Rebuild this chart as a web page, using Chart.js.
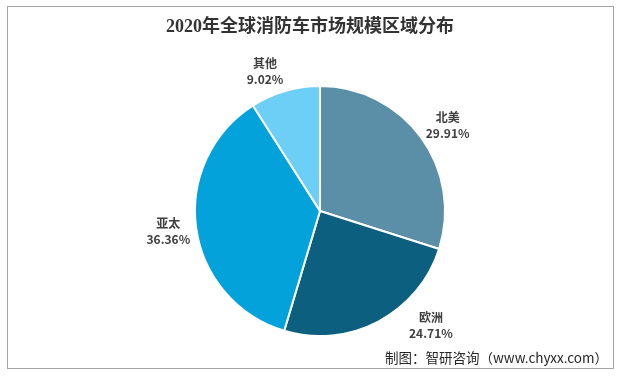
<!DOCTYPE html>
<html>
<head>
<meta charset="utf-8">
<script src="https://cdn.jsdelivr.net/npm/chart.js@4"></script>
<style>
  html, body { margin: 0; padding: 0; background: #fff; }
  #wrap { width: 621px; height: 376px; }
</style>
</head>
<body>
<div id="wrap"><canvas id="pieChart" width="621" height="376"></canvas></div>
<script>
// data
const regions = ['北美', '欧洲', '亚太', '其他'];
const shares = [29.91, 24.71, 36.36, 9.02];
const colors = ['#5b8fa8', '#0d5f80', '#04a2db', '#6dcff6'];
const titleText = '2020年全球消防车市场规模区域分布';
const sourceText = '制图：智研咨询（www.chyxx.com）';

// frame, title, source and outside labels
const decor = {
    id: 'decor',
    beforeDraw(chart) {
        const c = chart.ctx;
        c.save();
        c.fillStyle = '#fff';
        c.fillRect(0, 0, chart.width, chart.height);
        c.strokeStyle = '#a6a6a6';
        c.lineWidth = 1;
        c.strokeRect(7.5, 6.5, 606, 362);
        c.restore();
    },
    afterDraw(chart) {
        const c = chart.ctx;
        c.save();
        c.fillStyle = '#333';
        c.textAlign = 'center';
        c.textBaseline = 'middle';
        c.font = 'bold 18px "Liberation Serif", "Noto Sans CJK SC"';
        c.fillText(titleText, 310, 27);

        c.textAlign = 'right';
        c.fillStyle = '#262626';
        c.font = '13.5px "Noto Sans CJK SC", "Liberation Sans"';
        c.fillText(sourceText, 608, 358);

        const meta = chart.getDatasetMeta(0);
        c.font = 'bold 12px "Noto Sans CJK SC", "Liberation Sans"';
        c.fillStyle = '#404040';
        c.textAlign = 'center';
        meta.data.forEach((arc, i) => {
            const a = (arc.startAngle + arc.endAngle) / 2;
            const pct = shares[i].toFixed(2) + '%';
            const w = Math.max(c.measureText(regions[i]).width, c.measureText(pct).width);
            const h = 28;
            const r = arc.outerRadius;
            const sx = Math.cos(a), sy = Math.sin(a);
            let x = arc.x + sx * (r + 6) + Math.sign(sx) * w / 2;
            let y = arc.y + sy * (r + 6 + h / 2);
            // keep clear of the source note: slide up and out beside the pie
            if (y > 325) {
                y = 325;
                const top = y - h / 2 - arc.y;
                x = arc.x + Math.sign(sx) * (Math.sqrt(Math.max(0, r * r - top * top)) + 14 + w / 2);
            }
            c.fillText(regions[i], x, y - 8);
            c.fillText(pct, x, y + 8);
        });
        c.restore();
    }
};

new Chart(document.getElementById('pieChart'), {
    type: 'pie',
    data: {
        labels: regions,
        datasets: [{
            data: shares,
            backgroundColor: colors,
            borderColor: '#fff',
            borderWidth: 2
        }]
    },
    options: {
        responsive: false,
        animation: false,
        layout: { padding: { top: 85, bottom: 39, left: 194, right: 175 } },
        plugins: {
            legend: { display: false },
            tooltip: { enabled: false }
        }
    },
    plugins: [decor]
});
</script>
</body>
</html>
